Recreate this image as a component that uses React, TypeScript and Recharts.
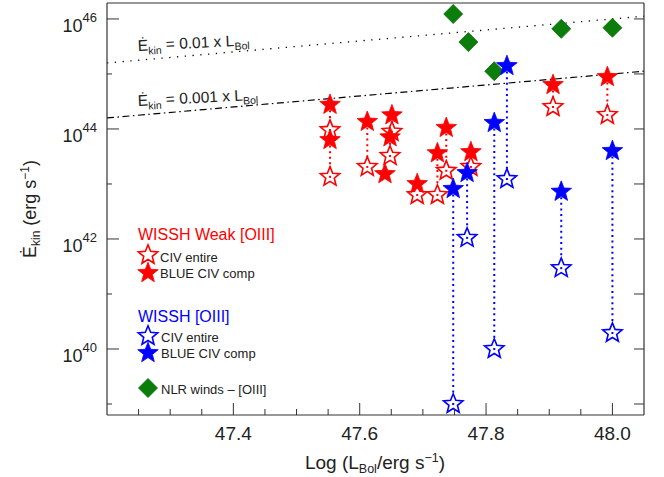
import React from 'react';
import { ComposedChart, Scatter, XAxis, YAxis, ReferenceLine } from 'recharts';

// ---------- data (log10 values) ----------
// WISSH Weak [OIII] sample
const weakLbol = [47.553, 47.553, 47.612, 47.651, 47.648, 47.640, 47.691, 47.723, 47.737, 47.776, 47.906, 47.992];
const weakBlueComp = [44.44, 43.80, 44.13, 44.25, 43.85, 43.18, 43.0, 43.56, 44.02, 43.58, 44.80, 44.945];
const weakEntire: (number | null)[] = [43.98, 43.13, 43.31, 43.95, 43.51, null, 42.8, 42.8, 43.24, 43.31, 44.40, 44.255];

// WISSH [OIII] sample
const wisshLbol = [47.748, 47.770, 47.813, 47.833, 47.919, 48.0];
const wisshBlueComp = [42.91, 43.20, 44.11, 45.145, 42.86, 43.60];
const wisshEntire = [39.0, 42.02, 40.0, 43.09, 41.47, 40.29];

// NLR winds - [OIII]
const nlrLbol = [47.748, 47.772, 47.813, 47.919, 48.0];
const nlrEkin = [46.09, 45.58, 45.05, 45.82, 45.84];

// ratio lines
const ratioLbolRange = [47.2, 48.05];
const ratioHigh = 0.01;
const ratioLow = 0.001;

// axes
const xDomain = [47.2, 48.05];
const yDomain = [38.8, 46.29];
const xTicks = [47.25, 47.3, 47.35, 47.4, 47.45, 47.5, 47.55, 47.6, 47.65, 47.7, 47.75, 47.8, 47.85, 47.9, 47.95, 48.0];
const xMajorTicks = [47.4, 47.6, 47.8, 48.0];
const xTickLabels = ['47.4', '47.6', '47.8', '48.0'];
const yTicks = [39, 40, 41, 42, 43, 44, 45, 46];
const yMajorTicks = [40, 42, 44, 46];
const yTickLabels = ['40', '42', '44', '46'];

// ---------- helpers ----------
const FONT = '"Liberation Sans", Arial, Helvetica, sans-serif';
const RED = '#ff0000';
const BLUE = '#0000ff';
const GREEN = '#0a7d0a';
const AX = '#333333';

const weakFilled = weakLbol.map((x, i) => ({ x, y: weakBlueComp[i] }));
const weakOpen = weakLbol
  .map((x, i) => ({ x, y: weakEntire[i] }))
  .filter((d) => d.y !== null) as { x: number; y: number }[];
const wisshFilled = wisshLbol.map((x, i) => ({ x, y: wisshBlueComp[i] }));
const wisshOpen = wisshLbol.map((x, i) => ({ x, y: wisshEntire[i] }));
const nlrData = nlrLbol.map((x, i) => ({ x, y: nlrEkin[i] }));

function starPath(cx: number, cy: number, R: number, r: number) {
  const pts: string[] = [];
  for (let i = 0; i < 10; i++) {
    const a = ((-90 + i * 36) * Math.PI) / 180;
    const rad = i % 2 === 0 ? R : r;
    pts.push(`${(cx + rad * Math.cos(a)).toFixed(2)},${(cy + rad * Math.sin(a)).toFixed(2)}`);
  }
  return 'M' + pts.join('L') + 'Z';
}

const StarFilled = ({ cx, cy, color }: any) => (
  <path d={starPath(cx, cy, 10.8, 4.6)} fill={color} stroke={color} strokeWidth={0.8} />
);
const StarOpen = ({ cx, cy, color, dot = true }: any) => (
  <g>
    <path d={starPath(cx, cy, 10.2, 4.5)} fill="#ffffff" stroke={color} strokeWidth={1.6} strokeLinejoin="miter" />
    {dot && <rect x={cx - 1} y={cy - 1} width={2} height={2} fill={color} />}
  </g>
);
const Diamond = ({ cx, cy }: any) => (
  <path
    d={`M${cx},${cy - 9.5}L${cx + 9.5},${cy}L${cx},${cy + 9.5}L${cx - 9.5},${cy}Z`}
    fill={GREEN}
    stroke="#0b6b0b"
    strokeWidth={0.8}
  />
);

const isIn = (arr: number[], v: number) => arr.findIndex((m) => Math.abs(m - v) < 1e-6);

const BottomTick = ({ x, y, payload }: any) => {
  const idx = isIn(xMajorTicks, payload.value);
  const major = idx >= 0;
  return (
    <g>
      <line x1={x} x2={x} y1={y} y2={y - (major ? 12 : 6)} stroke={AX} strokeWidth={1} />
      {major && (
        <text x={x} y={y + 25} textAnchor="middle" fontSize={19} fontFamily={FONT} fill="#222">
          {xTickLabels[idx]}
        </text>
      )}
    </g>
  );
};
const TopTick = ({ x, y, payload }: any) => {
  const major = isIn(xMajorTicks, payload.value) >= 0;
  return <line x1={x} x2={x} y1={y} y2={y + (major ? 12 : 6)} stroke={AX} strokeWidth={1} />;
};
const LeftTick = ({ x, y, payload }: any) => {
  const idx = isIn(yMajorTicks, payload.value);
  const major = idx >= 0;
  return (
    <g>
      <line x1={x} x2={x + (major ? 12 : 5)} y1={y} y2={y} stroke={AX} strokeWidth={1} />
      {major && (
        <text x={x - 10} y={y + 13} textAnchor="end" fontSize={18} fontFamily={FONT} fill="#222">
          10
          <tspan dy={-10} fontSize={13}>
            {yTickLabels[idx]}
          </tspan>
        </text>
      )}
    </g>
  );
};
const RightTick = ({ x, y }: any) => (
  <line x1={x} x2={x - 10} y1={y} y2={y} stroke={AX} strokeWidth={1} />
);

export default function App() {
  const W = 664;
  const H = 477;
  return (
    <div style={{ position: 'absolute', left: 0, top: 0, width: W, height: H, background: '#fff' }}>
      <ComposedChart
        width={W}
        height={H}
        margin={{ top: 2, right: 10, bottom: 32, left: 57 }}
      >
        <XAxis
          xAxisId="b"
          dataKey="x"
          type="number"
          orientation="bottom"
          domain={xDomain}
          ticks={xTicks}
          interval={0}
          tick={<BottomTick />}
          tickLine={false}
          tickSize={0}
          tickMargin={0}
          axisLine={{ stroke: AX, strokeWidth: 1.2 }}
          height={30}
          allowDataOverflow
        />
        <XAxis
          xAxisId="t"
          type="number"
          orientation="top"
          domain={xDomain}
          ticks={xTicks}
          interval={0}
          tick={<TopTick />}
          tickLine={false}
          tickSize={0}
          tickMargin={0}
          axisLine={{ stroke: AX, strokeWidth: 1.2 }}
          height={1}
          allowDataOverflow
        />
        <YAxis
          yAxisId="l"
          dataKey="y"
          type="number"
          orientation="left"
          domain={yDomain}
          ticks={yTicks}
          interval={0}
          tick={<LeftTick />}
          tickLine={false}
          tickSize={0}
          tickMargin={0}
          axisLine={{ stroke: AX, strokeWidth: 1.2 }}
          width={50}
          allowDataOverflow
        />
        <YAxis
          yAxisId="r"
          type="number"
          orientation="right"
          domain={yDomain}
          ticks={yTicks}
          interval={0}
          tick={<RightTick />}
          tickLine={false}
          tickSize={0}
          tickMargin={0}
          axisLine={{ stroke: AX, strokeWidth: 1.2 }}
          width={10}
          allowDataOverflow
        />

        {/* ratio lines */}
        <ReferenceLine
          xAxisId="b"
          yAxisId="l"
          segment={ratioLbolRange.map((x) => ({ x, y: x + Math.log10(ratioHigh) }))}
          stroke="#000"
          strokeWidth={1.3}
          strokeDasharray="1.3 6.5"
        />
        <ReferenceLine
          xAxisId="b"
          yAxisId="l"
          segment={ratioLbolRange.map((x) => ({ x, y: x + Math.log10(ratioLow) }))}
          stroke="#000"
          strokeWidth={1.2}
          strokeDasharray="7 3.5 1.5 3.5"
        />

        <Scatter
          xAxisId="b"
          yAxisId="l"
          data={nlrData}
          isAnimationActive={false}
          shape={(p: any) => <Diamond cx={p.cx} cy={p.cy} />}
        />

        {weakLbol.map((x, i) =>
          weakEntire[i] === null ? null : (
            <ReferenceLine
              key={'wc' + i}
              xAxisId="b"
              yAxisId="l"
              segment={[
                { x, y: weakBlueComp[i] },
                { x, y: weakEntire[i] as number },
              ]}
              stroke={RED}
              strokeWidth={2}
              strokeDasharray="2 3.6"
            />
          )
        )}
        <Scatter
          xAxisId="b"
          yAxisId="l"
          data={weakOpen}
          isAnimationActive={false}
          shape={(p: any) => <StarOpen cx={p.cx} cy={p.cy} color={RED} />}
        />
        <Scatter
          xAxisId="b"
          yAxisId="l"
          data={weakFilled}
          isAnimationActive={false}
          shape={(p: any) => <StarFilled cx={p.cx} cy={p.cy} color={RED} />}
        />

        {wisshLbol.map((x, i) => (
          <ReferenceLine
            key={'sc' + i}
            xAxisId="b"
            yAxisId="l"
            segment={[
              { x, y: wisshBlueComp[i] },
              { x, y: wisshEntire[i] },
            ]}
            stroke={BLUE}
            strokeWidth={2}
            strokeDasharray="2 3.6"
          />
        ))}
        <Scatter
          xAxisId="b"
          yAxisId="l"
          data={wisshOpen}
          isAnimationActive={false}
          shape={(p: any) => <StarOpen cx={p.cx} cy={p.cy} color={BLUE} />}
        />
        <Scatter
          xAxisId="b"
          yAxisId="l"
          data={wisshFilled}
          isAnimationActive={false}
          shape={(p: any) => <StarFilled cx={p.cx} cy={p.cy} color={BLUE} />}
        />
      </ComposedChart>

      {/* annotations, titles and legend */}
      <svg
        width={W}
        height={H}
        style={{ position: 'absolute', left: 0, top: 0, pointerEvents: 'none' }}
        fontFamily={FONT}
      >
        <text x={138} y={51} fontSize={15.5} fill="#222" transform="rotate(-3 138 51)">
          Ė<tspan dy={4} fontSize={10.5}>kin</tspan>
          <tspan dy={-4}> = 0.01 x L</tspan>
          <tspan dy={4} fontSize={10.5}>Bol</tspan>
        </text>
        <text x={138} y={106} fontSize={15.5} fill="#222" transform="rotate(-3 138 106)">
          Ė<tspan dy={4} fontSize={10.5}>kin</tspan>
          <tspan dy={-4}> = 0.001 x L</tspan>
          <tspan dy={4} fontSize={10.5}>Bol</tspan>
        </text>

        {/* y title */}
        <text transform="translate(36,209) rotate(-90)" textAnchor="middle" fontSize={18} fill="#222">
          Ė<tspan dy={4} fontSize={12}>kin</tspan>
          <tspan dy={-4}> (erg s</tspan>
          <tspan dy={-7} fontSize={12}>−1</tspan>
          <tspan dy={7}>)</tspan>
        </text>
        {/* x title */}
        <text x={375} y={469} textAnchor="middle" fontSize={19} fill="#222">
          Log (L<tspan dy={4} fontSize={12.5}>Bol</tspan>
          <tspan dy={-4}>/erg s</tspan>
          <tspan dy={-7} fontSize={12.5}>−1</tspan>
          <tspan dy={7}>)</tspan>
        </text>

        {/* legend */}
        <text x={138} y={240} fontSize={16} fill={RED}>WISSH Weak [OIII]</text>
        <StarOpen cx={148} cy={255} color={RED} dot={false} />
        <text x={160} y={262} fontSize={13} fill="#222">CIV entire</text>
        <StarFilled cx={148} cy={273} color={RED} />
        <text x={160} y={278} fontSize={13} fill="#222">BLUE CIV comp</text>

        <text x={138} y={322} fontSize={16} fill={BLUE}>WISSH [OIII]</text>
        <StarOpen cx={148} cy={336} color={BLUE} dot={false} />
        <text x={161} y={342} fontSize={13} fill="#222">CIV entire</text>
        <StarFilled cx={148} cy={353} color={BLUE} />
        <text x={161} y={358} fontSize={13} fill="#222">BLUE CIV comp</text>

        <Diamond cx={148} cy={388} />
        <text x={161} y={394} fontSize={13} fill="#222">NLR winds – [OIII]</text>
      </svg>
    </div>
  );
}
